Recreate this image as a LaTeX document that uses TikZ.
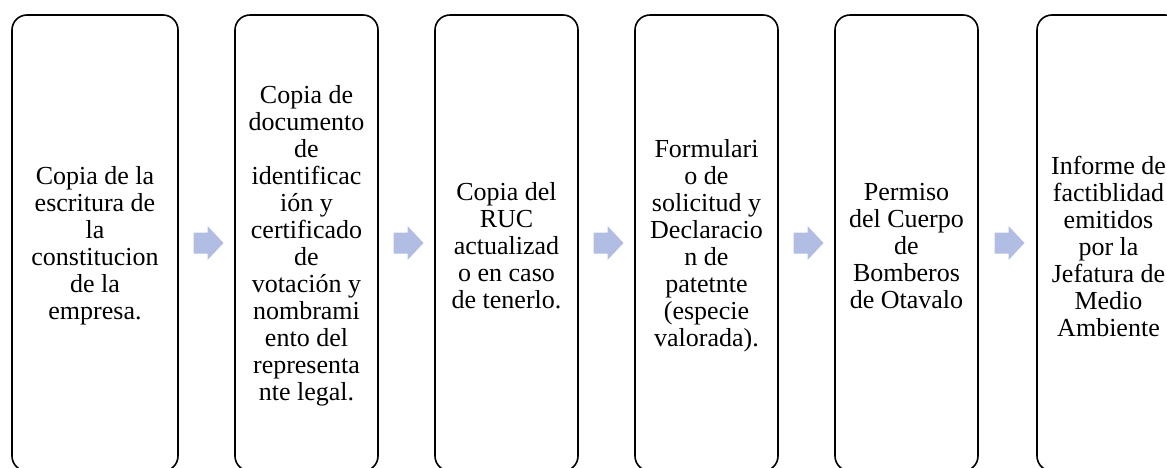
\documentclass[tikz,border=0pt]{standalone}
\usepackage{fontspec}
\setmainfont{Liberation Serif}
\usetikzlibrary{calc}
\begin{document}
\begin{tikzpicture}[x=1pt,y=-1pt,
  stepbox/.style={draw=black,line width=1.6pt,rounded corners=15pt,fill=white,
    minimum height=456pt,inner sep=0pt},
  steptext/.style={align=center,inner sep=0pt,font=\fontsize{26}{27}\selectfont},
  chev/.style={fill=arrowblue,draw=none}]
\definecolor{arrowblue}{HTML}{B1BDE2}
\useasboundingbox (0,0) rectangle (1167,468);
\clip (0,0) rectangle (1167,468);
\node[stepbox,minimum width=166pt] (b1) at (95,243) {};
\node[stepbox,minimum width=143pt] (b2) at (306.5,243) {};
\node[stepbox,minimum width=143pt] (b3) at (506.5,243) {};
\node[stepbox,minimum width=143pt] (b4) at (706.5,243) {};
\node[stepbox,minimum width=143pt] (b5) at (906.5,243) {};
\node[stepbox,minimum width=143pt] (b6) at (1108.5,243) {};
\node[steptext] (t1) at ([yshift=-3pt]b1.center)
  {Copia de la\\escritura de\\la\\constitucion\\de la\\empresa.};
\node[steptext] (t2) at ([yshift=-3pt]b2.center)
  {Copia de\\documento\\de\\identificac\\ión y\\certificado\\de\\votación y\\nombrami\\ento del\\representa\\nte legal.};
\node[steptext] (t3) at ([yshift=-3pt]b3.center)
  {Copia del\\RUC\\actualizad\\o en caso\\de tenerlo.};
\node[steptext] (t4) at ([yshift=-3pt]b4.center)
  {Formulari\\o de\\solicitud y\\Declaracio\\n de\\patetnte\\(especie\\valorada).};
\node[steptext] (t5) at ([yshift=-3pt]b5.center)
  {Permiso\\del Cuerpo\\de\\Bomberos\\de Otavalo};
\node[steptext] (t6) at ([yshift=-3pt]b6.center)
  {Informe de\\factiblidad\\emitidos\\por la\\Jefatura de\\Medio\\Ambiente};
\foreach \a/\b/\n in {b1/b2/1,b2/b3/2,b3/b4/3,b4/b5/4,b5/b6/5}{
  \coordinate (m\n) at ($(\a.east)!0.5!(\b.west)+(1,0)$);
  \fill[chev] ([shift={(-14,-10.5)}]m\n) -- ([shift={(0,-10.5)}]m\n) -- ([shift={(0,-17)}]m\n)
    -- ([shift={(16,0)}]m\n) -- ([shift={(0,17)}]m\n) -- ([shift={(0,10.5)}]m\n)
    -- ([shift={(-14,10.5)}]m\n) -- cycle;
}
\end{tikzpicture}
\end{document}
